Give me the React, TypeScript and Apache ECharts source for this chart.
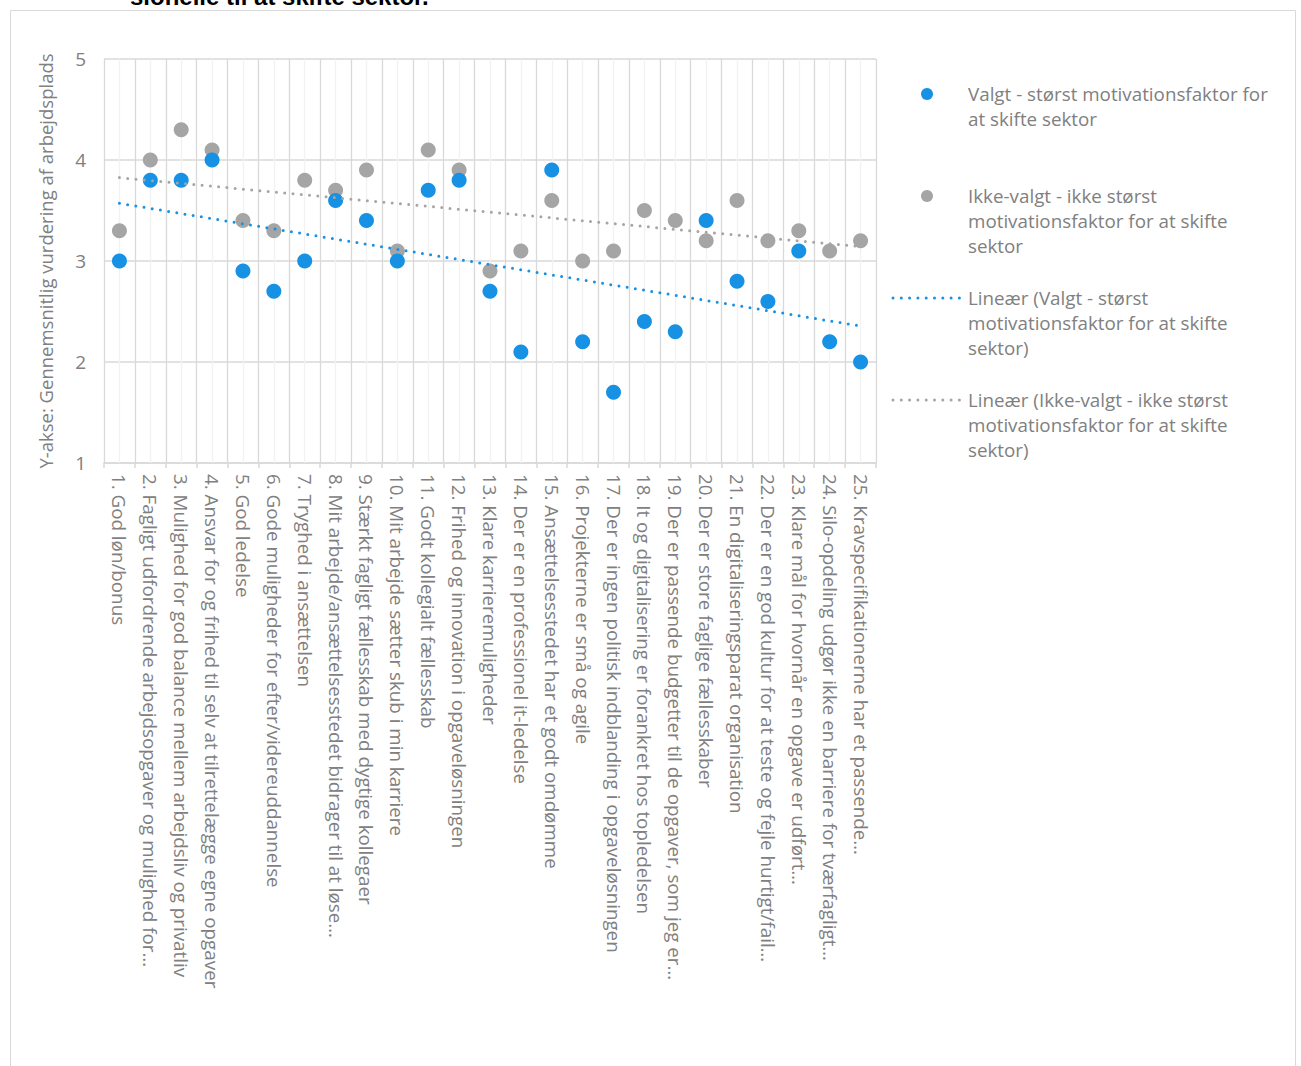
import React, { useEffect, useRef } from "react";
import * as echarts from "echarts";

// Udsagn (kategorier) langs x-aksen
const categories = [
  "1. God løn/bonus",
  "2. Fagligt udfordrende arbejdsopgaver og mulighed for…",
  "3. Mulighed for god balance mellem arbejdsliv og privatliv",
  "4. Ansvar for og frihed til selv at tilrettelægge egne opgaver",
  "5. God ledelse",
  "6. Gode muligheder for efter/videreuddannelse",
  "7. Tryghed i ansættelsen",
  "8. Mit arbejde/ansættelsesstedet bidrager til at løse…",
  "9. Stærkt fagligt fællesskab med dygtige kollegaer",
  "10. Mit arbejde sætter skub i min karriere",
  "11. Godt kollegialt fællesskab",
  "12. Frihed og innovation i opgaveløsningen",
  "13. Klare karrieremuligheder",
  "14. Der er en professionel it-ledelse",
  "15. Ansættelsesstedet har et godt omdømme",
  "16. Projekterne er små og agile",
  "17. Der er ingen politisk indblanding i opgaveløsningen",
  "18. It og digitalisering er forankret hos topledelsen",
  "19. Der er passende budgetter til de opgaver, som jeg er…",
  "20. Der er store faglige fællesskaber",
  "21. En digitaliseringsparat organisation",
  "22. Der er en god kultur for at teste og fejle hurtigt/fail…",
  "23. Klare mål for hvornår en opgave er udført…",
  "24. Silo-opdeling udgør ikke en barriere for tværfagligt…",
  "25. Kravspecifikationerne har et passende…",
];

// Gennemsnitlig vurdering - valgt som største motivationsfaktor
const valgt = [
  3.0, 3.8, 3.8, 4.0, 2.9, 2.7, 3.0, 3.6, 3.4, 3.0, 3.7, 3.8, 2.7, 2.1, 3.9,
  2.2, 1.7, 2.4, 2.3, 3.4, 2.8, 2.6, 3.1, 2.2, 2.0,
];

// Gennemsnitlig vurdering - ikke valgt som største motivationsfaktor
const ikkeValgt = [
  3.3, 4.0, 4.3, 4.1, 3.4, 3.3, 3.8, 3.7, 3.9, 3.1, 4.1, 3.9, 2.9, 3.1, 3.6,
  3.0, 3.1, 3.5, 3.4, 3.2, 3.6, 3.2, 3.3, 3.1, 3.2,
];

const seriesNames = [
  "Valgt - størst motivationsfaktor for at skifte sektor",
  "Ikke-valgt - ikke størst motivationsfaktor for at skifte sektor",
  "Lineær (Valgt - størst motivationsfaktor for at skifte sektor)",
  "Lineær (Ikke-valgt - ikke størst motivationsfaktor for at skifte sektor)",
];

const legendLines = [
  "Valgt - størst motivationsfaktor for\nat skifte sektor",
  "Ikke-valgt - ikke størst\nmotivationsfaktor for at skifte\nsektor",
  "Lineær (Valgt - størst\nmotivationsfaktor for at skifte\nsektor)",
  "Lineær (Ikke-valgt - ikke størst\nmotivationsfaktor for at skifte\nsektor)",
];

const BLUE = "#1691E3";
const GREY = "#A5A5A5";
const TEXT = "#808080";
const GRID = "#D9D9D9";
const FONT = "'Open Sans', Lato, sans-serif";
const FONT_SIZE = 18.8;

// Lineær tendenslinje (mindste kvadraters metode) over kategori-nr. 1..n
function linearTrend(values: number[]): number[] {
  const n = values.length;
  const xs = values.map((_, i) => i + 1);
  const mx = xs.reduce((a, b) => a + b, 0) / n;
  const my = values.reduce((a, b) => a + b, 0) / n;
  let sxy = 0;
  let sxx = 0;
  for (let i = 0; i < n; i++) {
    sxy += (xs[i] - mx) * (values[i] - my);
    sxx += (xs[i] - mx) * (xs[i] - mx);
  }
  const slope = sxy / sxx;
  const intercept = my - slope * mx;
  return xs.map((x) => +(intercept + slope * x).toFixed(4));
}

function legendGraphic() {
  const textX = 968;
  const centers = [94, 196, 298, 400];
  const items: any[] = [];
  centers.forEach((cy, i) => {
    if (i < 2) {
      items.push({
        type: "circle",
        shape: { cx: 927, cy, r: 6 },
        style: { fill: i === 0 ? BLUE : GREY },
        silent: true,
      });
    } else {
      items.push({
        type: "line",
        shape: { x1: 893, y1: cy, x2: 960, y2: cy },
        style: {
          stroke: i === 2 ? BLUE : GREY,
          lineWidth: 3,
          lineDash: [0, 8.3],
          lineCap: "round",
        },
        silent: true,
      });
    }
    items.push({
      type: "text",
      x: textX,
      y: cy - 12.5,
      style: {
        text: legendLines[i],
        fill: TEXT,
        font: `${FONT_SIZE}px ${FONT}`,
        lineHeight: 25,
        verticalAlign: "top",
        align: "left",
      },
      silent: true,
    });
  });
  return items;
}

export default function App() {
  const ref = useRef<HTMLDivElement>(null);

  useEffect(() => {
    if (!ref.current) return;
    const chart = echarts.init(ref.current, undefined, { renderer: "svg" });

    const trendValgt = linearTrend(valgt);
    const trendIkke = linearTrend(ikkeValgt);

    chart.setOption({
      animation: false,
      backgroundColor: "#ffffff",
      grid: { left: 104, top: 59, width: 772, height: 404, containLabel: false },
      xAxis: {
        type: "category",
        data: categories,
        boundaryGap: true,
        axisLine: { show: true, lineStyle: { color: GRID, width: 1.5 } },
        axisTick: { show: true, length: 5, lineStyle: { color: GRID, width: 1.5 } },
        axisLabel: {
          interval: 0,
          rotate: -90,
          margin: 11,
          color: TEXT,
          fontSize: FONT_SIZE,
          fontFamily: FONT,
        },
        splitLine: { show: true, lineStyle: { color: GRID, width: 1.3 } },
      },
      yAxis: {
        type: "value",
        min: 1,
        max: 5,
        interval: 1,
        axisLine: { show: false },
        axisTick: { show: false },
        axisLabel: { color: TEXT, fontSize: 19, fontFamily: FONT, margin: 18 },
        splitLine: { show: true, lineStyle: { color: GRID, width: 1.5 } },
        name: "Y-akse: Gennemsnitlig vurdering af arbejdsplads",
        nameLocation: "middle",
        nameRotate: 90,
        nameGap: 49,
        nameTextStyle: { color: TEXT, fontSize: 18.5, fontFamily: FONT },
      },
      series: [
        {
          name: seriesNames[0],
          type: "scatter",
          data: valgt,
          symbol: "circle",
          symbolSize: 15,
          itemStyle: { color: BLUE, opacity: 1 },
          z: 3,
          // lyse hjælpelinjer midt i hver kategori
          markLine: {
            silent: true,
            z: 1,
            symbol: ["none", "none"],
            label: { show: false },
            lineStyle: { color: "#F2F2F2", width: 1.3, type: "solid" },
            emphasis: { disabled: true },
            data: categories.map((c) => ({ xAxis: c })),
          },
        },
        {
          name: seriesNames[1],
          type: "scatter",
          data: ikkeValgt,
          symbol: "circle",
          symbolSize: 15,
          itemStyle: { color: GREY, opacity: 1 },
          z: 2,
        },
        {
          name: seriesNames[2],
          type: "line",
          data: trendValgt,
          showSymbol: false,
          symbol: "none",
          lineStyle: { color: BLUE, width: 3, type: [0, 8.3], cap: "round" },
          z: 4,
        },
        {
          name: seriesNames[3],
          type: "line",
          data: trendIkke,
          showSymbol: false,
          symbol: "none",
          lineStyle: { color: GREY, width: 3, type: [0, 8.3], cap: "round" },
          z: 4,
        },
      ],
      graphic: [
        {
          type: "rect",
          shape: { x: 10.5, y: 10.5, width: 1285, height: 1100 },
          style: { fill: "none", stroke: GRID, lineWidth: 1 },
          silent: true,
          z: -1,
        },
        {
          type: "text",
          x: 130,
          y: 8,
          style: {
            text: "sionelle til at skifte sektor.",
            fill: "#000000",
            font: "bold 24px 'Liberation Sans', Arial, sans-serif",
            verticalAlign: "bottom",
            align: "left",
          },
          silent: true,
        },
        ...legendGraphic(),
      ],
    });

    return () => chart.dispose();
  }, []);

  return (
    <div
      ref={ref}
      style={{
        position: "fixed",
        left: 0,
        top: 0,
        width: 1301,
        height: 1066,
        background: "#ffffff",
      }}
    />
  );
}
